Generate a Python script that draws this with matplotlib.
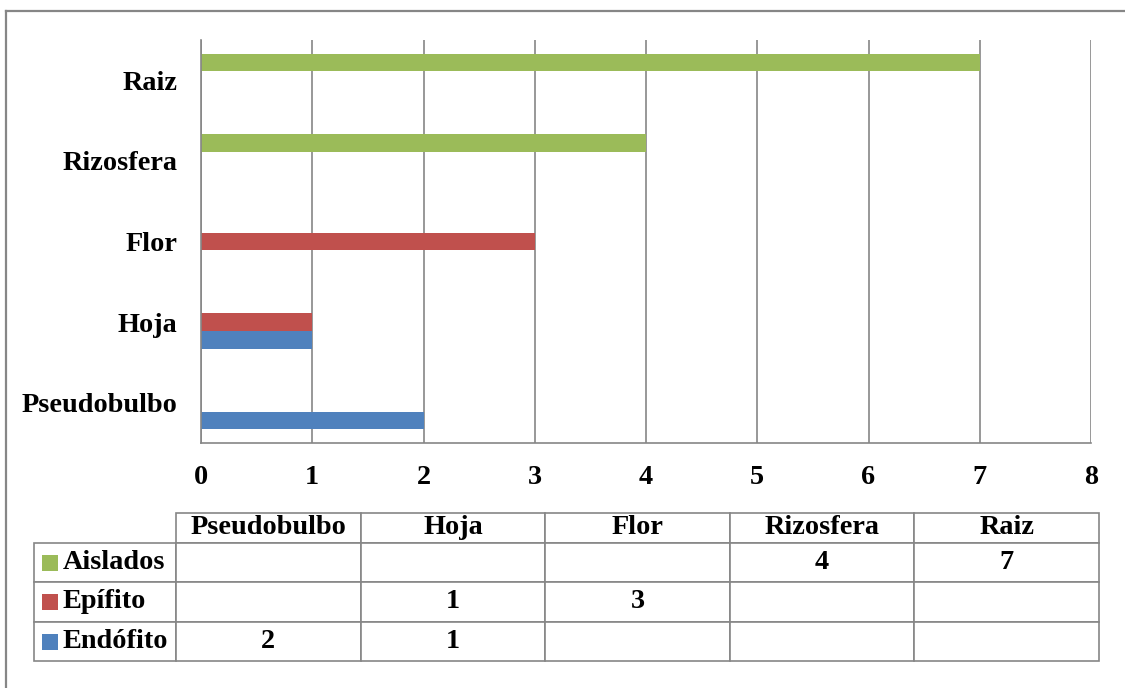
import matplotlib.pyplot as plt
from matplotlib.lines import Line2D
from matplotlib.patches import Rectangle
from matplotlib.table import Table
import numpy as np

plt.rcParams['font.family'] = ['Liberation Serif', 'DejaVu Serif']
plt.rcParams['font.weight'] = 'bold'

# data
categorias = ['Pseudobulbo', 'Hoja', 'Flor', 'Rizosfera', 'Raiz']
series = ['Aislados', 'Epífito', 'Endófito']
aislados = [np.nan, np.nan, np.nan, 4, 7]
epifito = [np.nan, 1, 3, np.nan, np.nan]
endofito = [2, 1, np.nan, np.nan, np.nan]
valores = [aislados, epifito, endofito]
colores = ['#9BBB59', '#C0504D', '#4F81BD']
x_ticks = [0, 1, 2, 3, 4, 5, 6, 7, 8]

W, H = 1125, 688
gris = '#868686'
fs = 20.3

fig = plt.figure(figsize=(W / 100, H / 100), dpi=100)

def fx(px):
    return px / W

def fy(py):
    return 1 - py / H

# outer frame (only top and left edges fall inside the image)
fig.add_artist(Line2D([fx(6), 1.0], [fy(11), fy(11)], color=gris, lw=1.6))
fig.add_artist(Line2D([fx(6), fx(6)], [fy(11), 0.0], color=gris, lw=1.6))

# bar chart
ax = fig.add_axes([fx(201), fy(443), fx(1091) - fx(201), fy(40) - fy(443)])
y = np.arange(len(categorias))
h = 0.22
offsets = [h, 0, -h]
for vals, off, col, name in zip(valores, offsets, colores, series):
    ax.barh(y + off, np.nan_to_num(vals), height=h, color=col, label=name, zorder=3)

ax.set_xlim(0, 8)
ax.set_ylim(-0.5, len(categorias) - 0.5)
ax.set_xticks(x_ticks)
ax.set_xticklabels([str(t) for t in x_ticks], fontsize=fs, fontweight='bold')
ax.set_yticks(y)
ax.set_yticklabels(categorias, fontsize=fs, fontweight='bold')
ax.tick_params(axis='x', length=0, pad=16)
ax.tick_params(axis='y', length=0, pad=17)
ax.grid(axis='x', color=gris, lw=1.2, zorder=0)
for s in ['top', 'right']:
    ax.spines[s].set_visible(False)
for s in ['left', 'bottom']:
    ax.spines[s].set_color(gris)
    ax.spines[s].set_linewidth(1.2)
    ax.spines[s].set_zorder(4)

# data table below the chart
tax = fig.add_axes([fx(34), fy(661), fx(1099) - fx(34), fy(513) - fy(661)])
tax.axis('off')
tabla = Table(tax, bbox=[0, 0, 1, 1])
label_w, col_w = 142, 184.6
head_h, row_h = 30, 39.5

corner = tabla.add_cell(0, 0, label_w, head_h, text='', fill=False)
corner.visible_edges = ''
for j, cat in enumerate(categorias):
    tabla.add_cell(0, j + 1, col_w, head_h, text=cat, loc='center', edgecolor=gris)
for i, (name, vals) in enumerate(zip(series, valores)):
    c = tabla.add_cell(i + 1, 0, label_w, row_h, text=name, loc='left', edgecolor=gris)
    c.PAD = 0.2
    for j, v in enumerate(vals):
        txt = '' if np.isnan(v) else str(int(v))
        tabla.add_cell(i + 1, j + 1, col_w, row_h, text=txt, loc='center', edgecolor=gris)

tabla.auto_set_font_size(False)
tabla.set_fontsize(fs)
for cell in tabla.get_celld().values():
    cell.set_linewidth(1.2)
    cell.get_text().set_fontweight('bold')
tax.add_table(tabla)

# colour keys in front of the row labels
row_tops = [543, 582, 622]
for top, col in zip(row_tops, colores):
    cy = top + 19.5
    fig.add_artist(Rectangle((fx(42), fy(cy + 8)), fx(16), fy(cy - 8) - fy(cy + 8),
                             transform=fig.transFigure, color=col, lw=0))

fig.savefig('out.png', dpi=100)
